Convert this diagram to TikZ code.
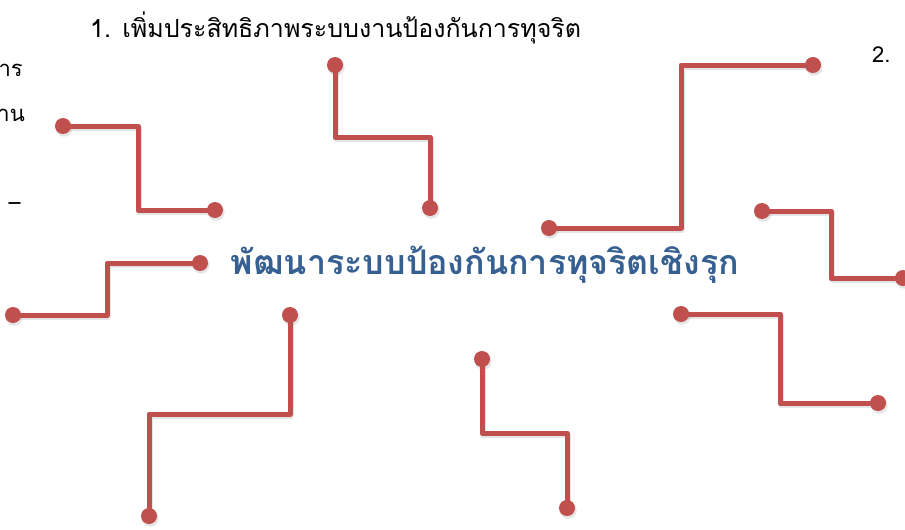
\documentclass[tikz,border=0pt]{standalone}
\usepackage{fontspec}
\newfontfamily\thai[Script=Thai]{Loma}
\definecolor{wire}{HTML}{C0504D}
\definecolor{titleblue}{HTML}{376092}
\begin{document}
\begin{tikzpicture}[x=1pt,y=-1pt,
  wireline/.style={draw=wire,line width=5pt,line join=round},
  shade/.style={draw=black,opacity=0.10,line width=6pt,line join=round,transform canvas={shift={(1.2,2.2)}}},
  dot/.style={circle,fill=wire,inner sep=0pt,minimum size=16pt},
  dotshade/.style={circle,fill=black,opacity=0.10,inner sep=0pt,minimum size=17pt},
  lbl/.style={inner sep=0pt,font=\thai\fontsize{22}{26}\selectfont,text=black}]
\useasboundingbox (0,0) rectangle (905,530);
\clip (0,0) rectangle (905,530);
\fill[white] (0,0) rectangle (905,530);

% endpoints
\coordinate (p1) at (63,126);  \coordinate (q1) at (215,210); \coordinate (m1) at (138,168);
\coordinate (p2) at (335,65);  \coordinate (q2) at (430,208); \coordinate (m2) at (382,137);
\coordinate (p3) at (549,228); \coordinate (q3) at (813,65);  \coordinate (m3) at (681,146);
\coordinate (p4) at (762,211); \coordinate (q4) at (903,278); \coordinate (m4) at (831,244);
\coordinate (p5) at (200,263); \coordinate (q5) at (13,315);  \coordinate (m5) at (107,289);
\coordinate (p6) at (290,315); \coordinate (q6) at (149,516); \coordinate (m6) at (220,414);
\coordinate (p7) at (482,359); \coordinate (q7) at (567,508); \coordinate (m7) at (524,433);
\coordinate (p8) at (681,314); \coordinate (q8) at (878,403); \coordinate (m8) at (780,358);

% shadows
\draw[shade] (p1) -| (m1) |- (q1);
\draw[shade] (p2) |- (m2) -| (q2);
\draw[shade] (p3) -| (m3) |- (q3);
\draw[shade] (p4) -| (m4) |- (q4);
\draw[shade] (p5) -| (m5) |- (q5);
\draw[shade] (p6) |- (m6) -| (q6);
\draw[shade] (p7) |- (m7) -| (q7);
\draw[shade] (p8) -| (m8) |- (q8);
\foreach \c in {p1,q1,p2,q2,p3,q3,p4,q4,p5,q5,p6,q6,p7,q7,p8,q8}
  \node[dotshade] at ([shift={(1.2,2.2)}]\c) {};

% wires
\draw[wireline] (p1) -| (m1) |- (q1);
\draw[wireline] (p2) |- (m2) -| (q2);
\draw[wireline] (p3) -| (m3) |- (q3);
\draw[wireline] (p4) -| (m4) |- (q4);
\draw[wireline] (p5) -| (m5) |- (q5);
\draw[wireline] (p6) |- (m6) -| (q6);
\draw[wireline] (p7) |- (m7) -| (q7);
\draw[wireline] (p8) -| (m8) |- (q8);
\foreach \c in {p1,q1,p2,q2,p3,q3,p4,q4,p5,q5,p6,q6,p7,q7,p8,q8}
  \node[dot] (d\c) at (\c) {};

% texts
\node[inner sep=0pt,font=\thai\bfseries\fontsize{34}{38}\selectfont,text=titleblue] (title) at (485,265) {พัฒนาระบบป้องกันการทุจริตเชิงรุก};
\node[lbl,anchor=base west,font=\thai\fontsize{25}{28}\selectfont] (t1) at (90,37) {1. เพิ่มประสิทธิภาพระบบงานป้องกันการทุจริต};
\node[lbl,anchor=base west] (t2) at (872,62) {2.};
\node[lbl,anchor=base east] (t3) at (23,76) {าร};
\node[lbl,anchor=base east] (t4) at (25,121) {าน};
\node[lbl,anchor=base east] (t5) at (21,210) {–};
\end{tikzpicture}
\end{document}
